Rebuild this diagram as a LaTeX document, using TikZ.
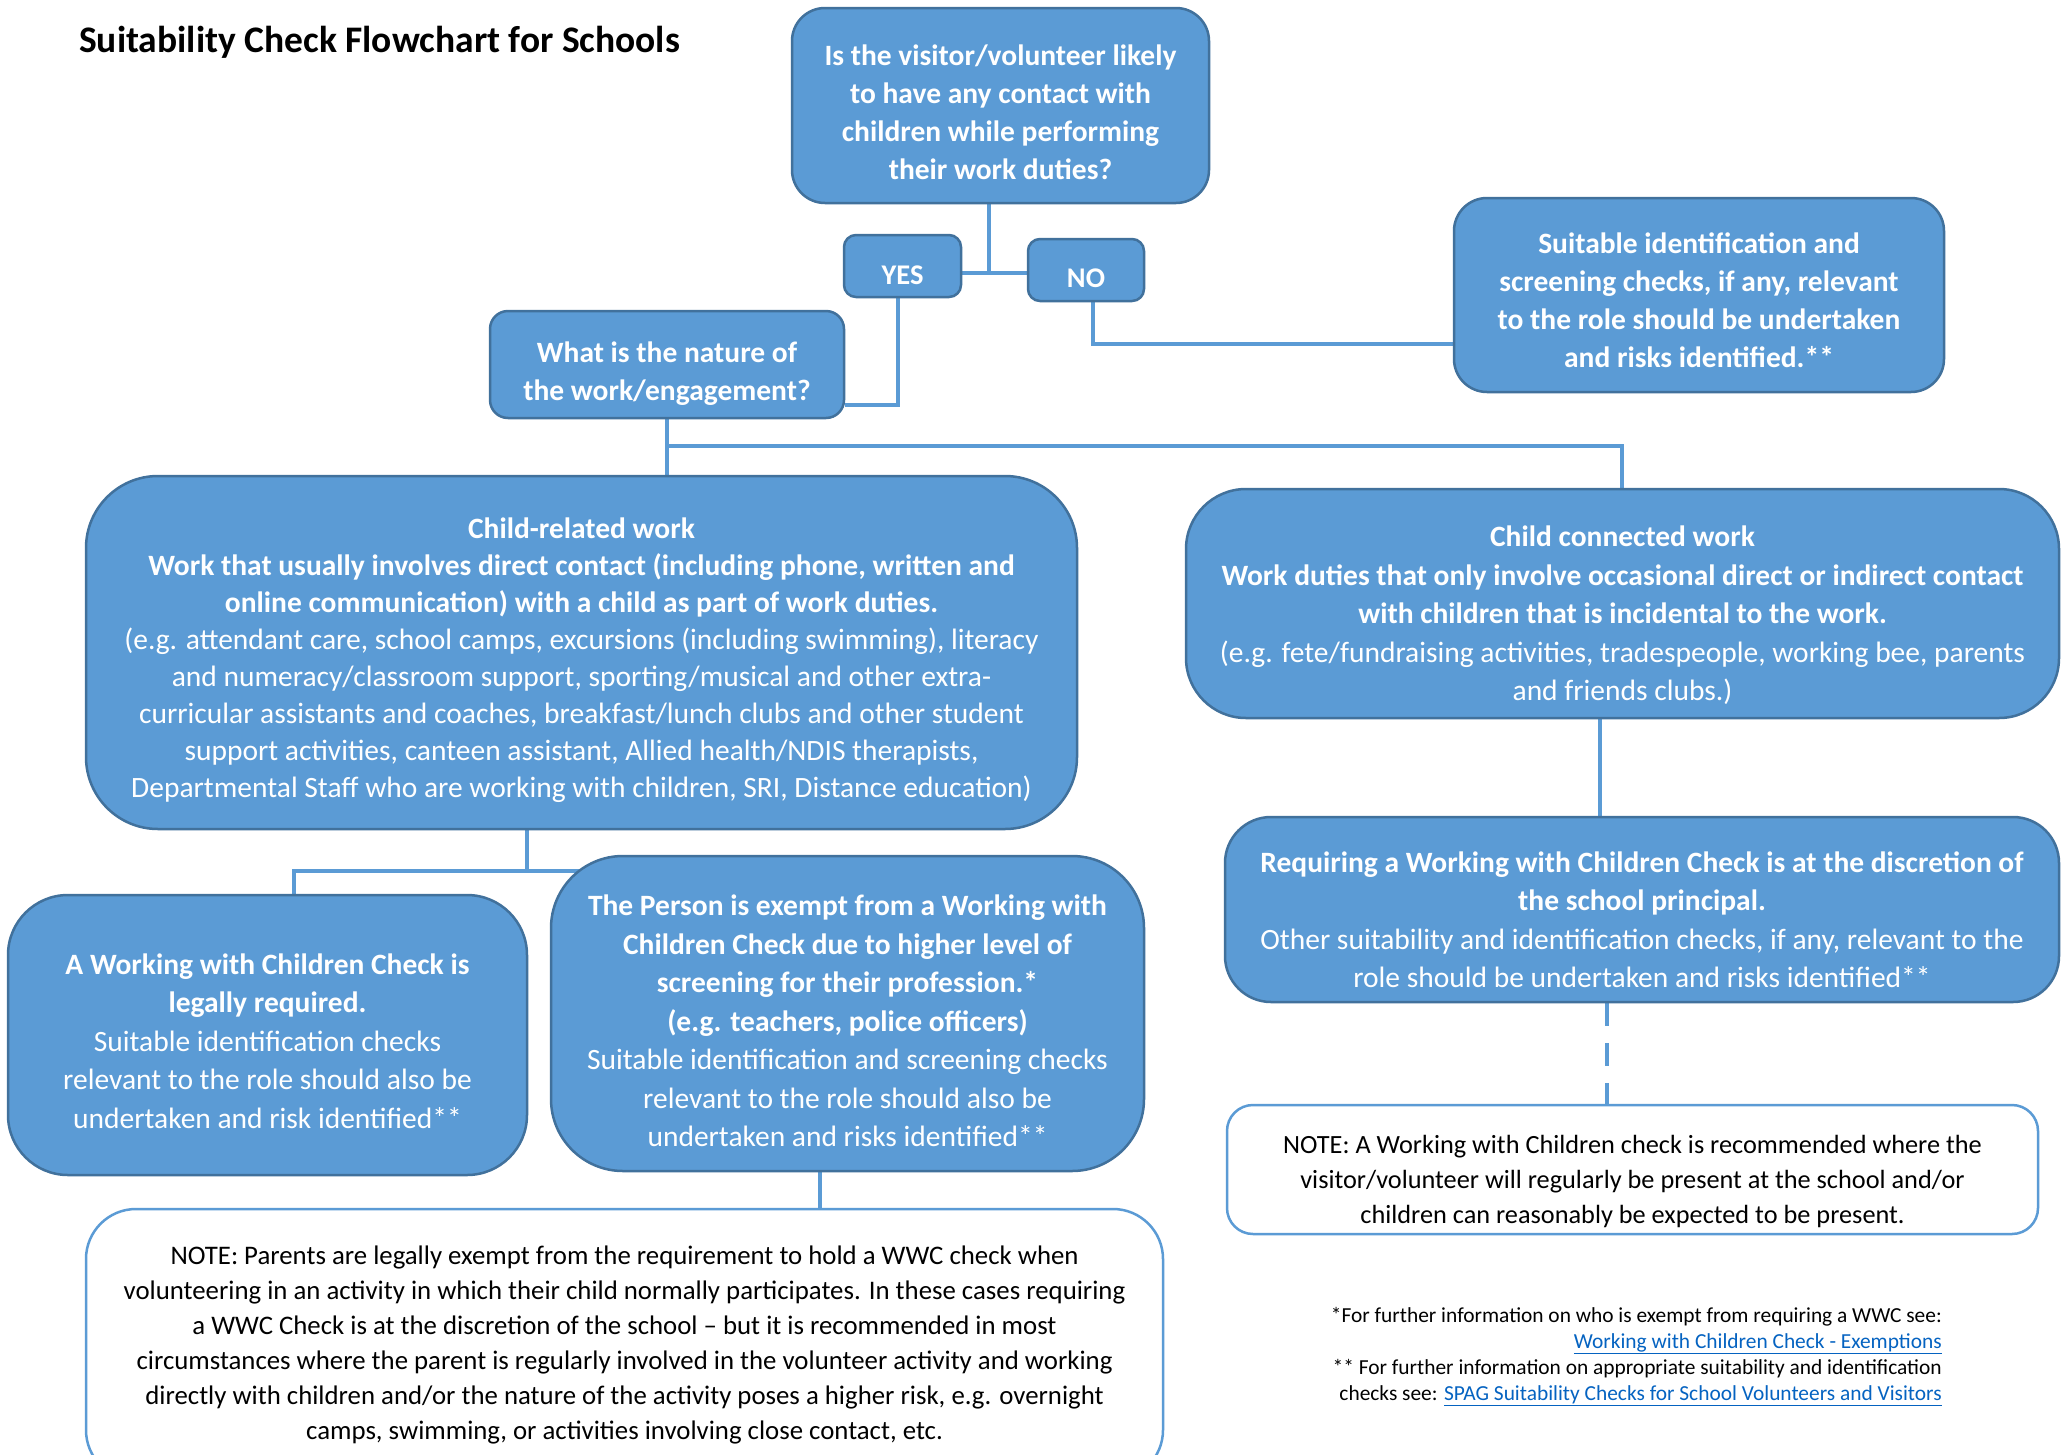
\documentclass[tikz,border=0pt]{standalone}
\usepackage{fontspec}
\setmainfont{Carlito}
\usetikzlibrary{backgrounds,calc}
\definecolor{boxc}{HTML}{5B9BD5}
\definecolor{bordc}{HTML}{41719C}
\definecolor{linec}{HTML}{5B9BD5}
\definecolor{linkc}{HTML}{0563C1}
\newcommand\boxtext[2]{\raisebox{-#1}[\height][\depth]{\begin{tabular}{@{}c@{}}#2\end{tabular}}}
\tikzset{
 bluebox/.style={draw=bordc, fill=boxc, line width=2.5pt, text=white, inner sep=0pt, font=\fontsize{29.5}{38.5}\selectfont},
 notebox/.style={draw=linec, fill=white, line width=2.5pt, text=black, inner sep=0pt},
 conn/.style={draw=linec, line width=4pt}
}
\begin{document}
\begin{tikzpicture}[x=1pt,y=-1pt]
\useasboundingbox (0,0) rectangle (2067,1454);
\clip (0,0) rectangle (2067,1454);

\node[anchor=west, font=\fontsize{37.5}{42}\selectfont\bfseries, inner sep=0] (title) at (79,42) {Suitability Check Flowchart for Schools};

\node[bluebox, minimum width=417pt, minimum height=195pt, rounded corners=33pt, font=\fontsize{29.5}{38}\selectfont\bfseries] (q1) at (1000.5,105.5)
 {\boxtext{9pt}{Is the visitor/volunteer likely\\to have any contact with\\children while performing\\their work duties?}};
\node[bluebox, minimum width=117pt, minimum height=62pt, rounded corners=12pt, font=\fontsize{28.5}{30}\selectfont\bfseries] (yes) at (902.5,266) {\boxtext{12pt}{YES}};
\node[bluebox, minimum width=116pt, minimum height=62pt, rounded corners=12pt, font=\fontsize{28.5}{30}\selectfont\bfseries] (no) at (1086,270) {\boxtext{11pt}{NO}};
\node[bluebox, minimum width=490pt, minimum height=194pt, rounded corners=33pt, font=\fontsize{29.5}{38}\selectfont\bfseries] (suit) at (1699,295)
 {\boxtext{8pt}{Suitable identification and\\screening checks, if any, relevant\\to the role should be undertaken\\and risks identified.**}};
\node[bluebox, minimum width=354pt, minimum height=107pt, rounded corners=18pt, font=\fontsize{29.5}{38}\selectfont\bfseries] (nature) at (667,364.5)
 {\boxtext{9pt}{What is the nature of\\the work/engagement?}};
\node[bluebox, minimum width=991pt, minimum height=353pt, rounded corners=72pt, font=\fontsize{29.5}{37}\selectfont] (childrel) at (581.5,652.5)
 {\boxtext{8pt}{\bfseries Child-related work\\\bfseries Work that usually involves direct contact (including phone, written and\\\bfseries online communication) with a child as part of work duties.\\(e.g. attendant care, school camps, excursions (including swimming), literacy\\and numeracy/classroom support, sporting/musical and other extra-\\curricular assistants and coaches, breakfast/lunch clubs and other student\\support activities, canteen assistant, Allied health/NDIS therapists,\\Departmental Staff who are working with children, SRI, Distance education)}};
\node[bluebox, minimum width=873pt, minimum height=229pt, rounded corners=60pt] (childcon) at (1622.5,603.5)
 {\boxtext{12.5pt}{\bfseries Child connected work\\\bfseries Work duties that only involve occasional direct or indirect contact\\\bfseries with children that is incidental to the work.\\(e.g. fete/fundraising activities, tradespeople, working bee, parents\\and friends clubs.)}};
\node[bluebox, minimum width=519pt, minimum height=280pt, rounded corners=60pt] (wwcreq) at (267.5,1035)
 {\boxtext{8.5pt}{\bfseries A Working with Children Check is\\\bfseries legally required.\\Suitable identification checks\\relevant to the role should also be\\undertaken and risk identified**}};
\node[bluebox, minimum width=593pt, minimum height=315pt, rounded corners=72pt] (exempt) at (847.5,1013.5)
 {\boxtext{10pt}{\bfseries The Person is exempt from a Working with\\\bfseries Children Check due to higher level of\\\bfseries screening for their profession.*\\\bfseries (e.g. teachers, police officers)\\Suitable identification and screening checks\\relevant to the role should also be\\undertaken and risks identified**}};
\node[bluebox, minimum width=834pt, minimum height=185pt, rounded corners=46pt] (req) at (1642,909.5)
 {\boxtext{13pt}{\bfseries Requiring a Working with Children Check is at the discretion of\\\bfseries the school principal.\\Other suitability and identification checks, if any, relevant to the\\role should be undertaken and risks identified**}};
\node[notebox, minimum width=811pt, minimum height=129pt, rounded corners=26pt, font=\fontsize{26.3}{35}\selectfont] (noter) at (1632.5,1169.5)
 {\boxtext{12pt}{NOTE: A Working with Children check is recommended where the\\visitor/volunteer will regularly be present at the school and/or\\children can reasonably be expected to be present.}};
\node[notebox, minimum width=1077pt, minimum height=271pt, rounded corners=50pt, font=\fontsize{26.8}{35}\selectfont] (notep) at (624.5,1344.5)
 {\boxtext{0pt}{NOTE: Parents are legally exempt from the requirement to hold a WWC check when\\volunteering in an activity in which their child normally participates. In these cases requiring\\a WWC Check is at the discretion of the school -- but it is recommended in most\\circumstances where the parent is regularly involved in the volunteer activity and working\\directly with children and/or the nature of the activity poses a higher risk, e.g. overnight\\camps, swimming, or activities involving close contact, etc.}};

\node[anchor=north east, align=right, inner sep=0, font=\fontsize{21.4}{26}\selectfont] (fn) at (1942,1307)
 {*For further information on who is exempt from requiring a WWC see:\\\textcolor{linkc}{\underline{Working with Children Check - Exemptions}}\\** For further information on appropriate suitability and identification\\checks see: \textcolor{linkc}{\underline{SPAG Suitability Checks for School Volunteers and Visitors}}};

\begin{scope}[on background layer]
\fill[white] (0,0) rectangle (2067,1454);
\coordinate (j1) at (989,273);
\draw[conn] (j1 |- q1.south) -- (j1);
\draw[conn] (yes.east |- j1) -- (no.west |- j1);
\coordinate (n1) at (1093,344);
\draw[conn] (n1 |- no.south) -- (n1) -- (n1 -| suit.west);
\coordinate (y1) at (898,405);
\draw[conn] (y1 |- yes.south) -- (y1) -- (y1 -| nature.east);
\coordinate (b1) at (667,446);
\coordinate (b2) at (1622,446);
\draw[conn] (b1 |- nature.south) -- (b1 |- childrel.north);
\draw[conn] (b1) -- (b2) -- (b2 |- childcon.north);
\coordinate (c1) at (527,871);
\coordinate (c2) at (294,871);
\coordinate (c3) at (712,871);
\draw[conn] (c1 |- childrel.south) -- (c1);
\draw[conn] (c2 |- wwcreq.north) -- (c2) -- (c3);
\coordinate (e1) at (820,1190);
\draw[conn] (e1 |- exempt.south) -- (e1 |- notep.north);
\coordinate (r1) at (1600,800);
\draw[conn] (r1 |- childcon.south) -- (r1 |- req.north);
\coordinate (r2) at (1607,1050);
\draw[conn, dash pattern=on 23pt off 17pt] (r2 |- req.south) -- (r2 |- noter.north);
\end{scope}
\end{tikzpicture}
\end{document}
